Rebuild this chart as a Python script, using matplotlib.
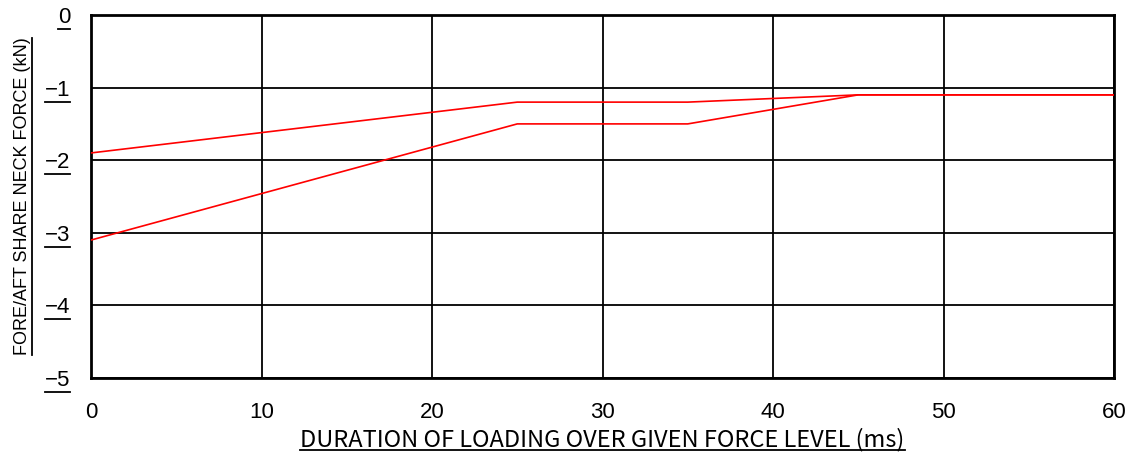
import matplotlib
matplotlib.use("Agg")
import matplotlib.pyplot as plt
from matplotlib.lines import Line2D

# Duration of loading (ms) vs fore/aft shear neck force (kN)
upper_ms = [0, 25, 35, 45, 60]
upper_kn = [-1.9, -1.2, -1.2, -1.1, -1.1]
lower_ms = [0, 25, 35, 45, 60]
lower_kn = [-3.1, -1.5, -1.5, -1.1, -1.1]

x_ticks = [0, 10, 20, 30, 40, 50, 60]
y_ticks = [0, -1, -2, -3, -4, -5]

plt.rcParams["font.family"] = ["Liberation Sans", "DejaVu Sans"]

fig = plt.figure(figsize=(11.32, 4.55), dpi=100)
ax = fig.add_axes([91 / 1132, 1 - 378 / 455, (1114 - 91) / 1132, (378 - 15) / 455])

ax.plot(upper_ms, upper_kn, color="red", linewidth=1.2, zorder=3)
ax.plot(lower_ms, lower_kn, color="red", linewidth=1.2, zorder=3)

ax.set_xlim(0, 60)
ax.set_ylim(-5, 0)
ax.set_xticks(x_ticks)
ax.set_yticks(y_ticks)
ax.set_yticklabels([f"\u2212{abs(v)}" if v < 0 else str(v) for v in y_ticks])
ax.tick_params(axis="x", length=0, pad=17, labelsize=16)
ax.tick_params(axis="y", length=0, pad=15, labelsize=16)
ax.grid(True, color="black", linewidth=1.3)
ax.set_axisbelow(True)
for sp in ax.spines.values():
    sp.set_linewidth(2.0)
    sp.set_color("black")

ax.set_ylabel("FORE/AFT SHARE NECK FORCE (kN)", fontsize=13, labelpad=10)
ax.set_xlabel("DURATION OF LOADING OVER GIVEN FORCE LEVEL (ms)", fontsize=17,
              labelpad=4, family=["Noto Sans CJK JP", "DejaVu Sans"])

# underline y tick labels and both axis labels
fig.canvas.draw()
renderer = fig.canvas.get_renderer()
W, H = fig.bbox.width, fig.bbox.height


def hline(x0, x1, y):
    fig.add_artist(Line2D([x0 / W, x1 / W], [y / H, y / H], color="black",
                          linewidth=1.3, transform=fig.transFigure))


for lbl in ax.get_yticklabels():
    bb = lbl.get_window_extent(renderer)
    hline(bb.x0, bb.x1, bb.y0 - 1)

bb = ax.xaxis.label.get_window_extent(renderer)
hline(bb.x0, bb.x1, bb.y0 + 2)

bb = ax.yaxis.label.get_window_extent(renderer)
fig.add_artist(Line2D([(bb.x1 + 1) / W, (bb.x1 + 1) / W], [bb.y0 / H, bb.y1 / H],
                      color="black", linewidth=1.3, transform=fig.transFigure))

fig.savefig("out.png", dpi=100)
